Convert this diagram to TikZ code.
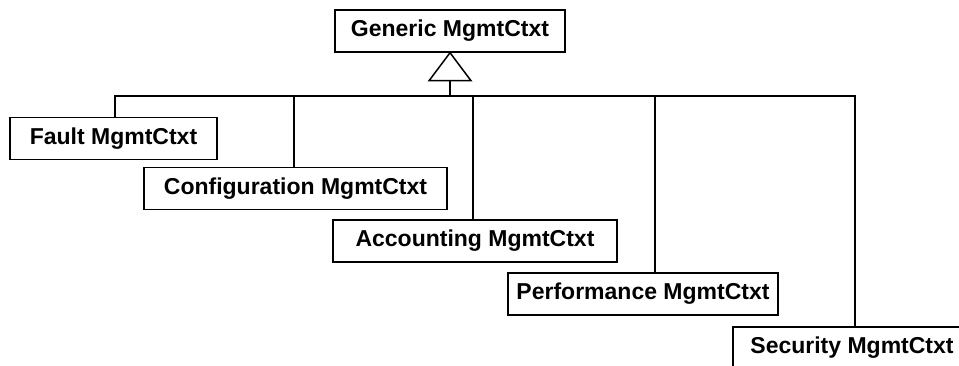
\documentclass[tikz,border=0pt]{standalone}
\usepackage{fontspec}
\setmainfont{Liberation Sans}
\usepackage{tikz}
\usetikzlibrary{positioning}

\begin{document}
\begin{tikzpicture}[
  x=1pt, y=-1pt,
  cbox/.style={
    rectangle, draw=black, fill=white, line width=1.5pt,
    minimum width=#1, minimum height=42pt, inner sep=0pt,
    font=\fontsize{23}{27}\selectfont\bfseries
  },
  cbox/.default={230pt},
  conn/.style={draw=black, line width=1.5pt}
]
\useasboundingbox (0,0) rectangle (959,366);
\clip (0,0) rectangle (959,366);

% === Base class ===
\node[cbox=230pt] (gen) at (450,31) {Generic MgmtCtxt};

% === Subclasses ===
\node[cbox=207pt] (fault)  at (113.5,138.5) {Fault MgmtCtxt};
\node[cbox=303pt] (config) at (295.5,188.5) {Configuration MgmtCtxt};
\node[cbox=284pt] (acct)   at (475,241)     {Accounting MgmtCtxt};
\node[cbox=270pt] (perf)   at (643,294)     {Performance MgmtCtxt};
\node[cbox=238pt] (sec)    at (852,348)     {Security MgmtCtxt};

% === Inheritance triangle ===
\coordinate (tri) at ([yshift=-28pt]gen.south);
\draw[conn, line join=miter] (gen.south) -- ([xshift=-21pt]tri) -- ([xshift=21pt]tri) -- cycle;
\coordinate (bus) at (450,96);
\draw[conn] (tri) -- (bus);

% === Bus lines ===
\draw[conn] (bus) -| ([xshift=1.5pt]fault.north);
\draw[conn] (bus) -| ([xshift=-1.5pt]config.north);
\draw[conn] (bus) -| ([xshift=-2pt]acct.north);
\draw[conn] (bus) -| ([xshift=12pt]perf.north);
\draw[conn] (bus) -| ([xshift=3pt]sec.north);

\end{tikzpicture}
\end{document}
